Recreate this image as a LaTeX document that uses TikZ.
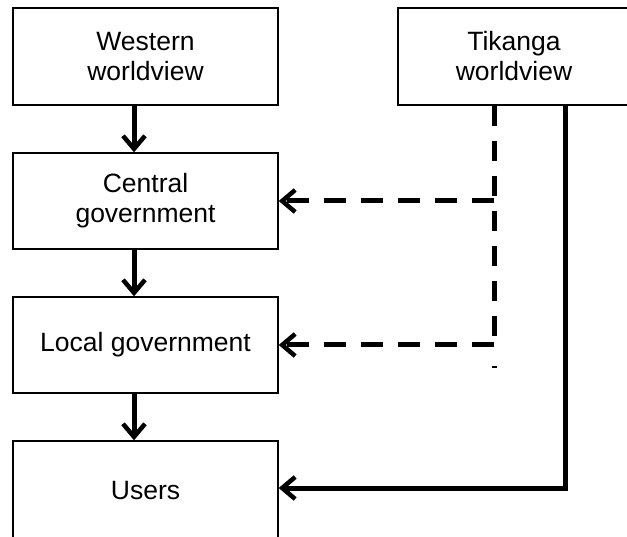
\documentclass[tikz,border=0pt]{standalone}
\usepackage{fontspec}
\setmainfont{Liberation Sans}
\usetikzlibrary{arrows.meta}
\begin{document}
\begin{tikzpicture}[x=1pt,y=-1pt,
  box/.style={draw=black, line width=1.4pt, fill=white, inner sep=0pt,
    minimum width=265pt, align=center, font=\fontsize{26.5}{30}\selectfont},
  tipstyle/.style={-{Straight Barb[length=13pt,width=22pt,line width=4.5pt]}},
  flow/.style={line width=5pt, tipstyle},
  dflow/.style={line width=5pt, dash pattern=on 22pt off 15pt, tipstyle}]
\useasboundingbox (0,0) rectangle (627,537);
\node[box, minimum height=97pt] (west) at (145.5,56.5) {Western\\worldview};
\node[box, minimum height=97pt, minimum width=232pt] (tik) at (514,56.5) {Tikanga\\worldview};
\node[box, minimum height=96pt] (cent) at (145.5,201) {Central\\government};
\node[box, minimum height=96pt] (local) at (145.5,345) {Local government};
\node[box, minimum height=99pt] (users) at (145.5,490.5) {Users};
\draw[flow] (west.south -| 134,0) -- (cent.north -| 134,0);
\draw[flow] (cent.south -| 134,0) -- (local.north -| 134,0);
\draw[flow] (local.south -| 134,0) -- (users.north -| 134,0);
\coordinate (dtop) at (tik.south -| 494,0);
\coordinate (dc) at (494,201);
\coordinate (dl) at (494,345);
\draw[line width=5pt, dash pattern=on 20pt off 15pt] (dtop) -- (dl);
\draw[dflow] (dc) -- (cent.east);
\draw[dflow] (dl) -- (local.east);
\coordinate (dtick) at (494,367);
\draw[line width=1.8pt] (dtick) ++(-2.5,0) -- ++(5,0);
\coordinate (sc) at (565,488);
\draw[flow] (tik.south -| 565,0) -- (sc) -- (users.east |- sc);
\end{tikzpicture}
\end{document}
